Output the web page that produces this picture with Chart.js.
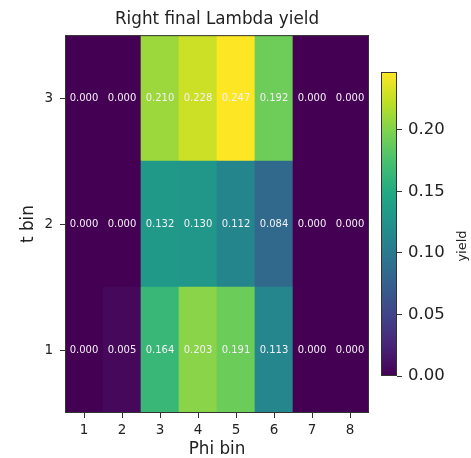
<!DOCTYPE html>
<html>
<head>
<meta charset="utf-8">
<script src="https://cdn.jsdelivr.net/npm/chart.js@4.4.1/dist/chart.umd.min.js"></script>
<style>
  body { margin: 0; background: #fff; }
  #wrap { position: relative; width: 471px; height: 458px; }
  canvas { position: absolute; top: 0; }
</style>
</head>
<body>
<div id="wrap">
  <canvas id="heatmap" width="471" height="458" style="left:0"></canvas>
  <canvas id="colorbar" width="111" height="458" style="left:360px"></canvas>
</div>
<script>
const TITLE = "Right final Lambda yield";
const PHI_BINS = ["1", "2", "3", "4", "5", "6", "7", "8"];
const T_BINS = [1, 2, 3];
const YIELD_T1 = [0.000, 0.005, 0.164, 0.203, 0.191, 0.113, 0.000, 0.000];
const YIELD_T2 = [0.000, 0.000, 0.132, 0.130, 0.112, 0.084, 0.000, 0.000];
const YIELD_T3 = [0.000, 0.000, 0.210, 0.228, 0.247, 0.192, 0.000, 0.000];
const CBAR_TICKS = [0.00, 0.05, 0.10, 0.15, 0.20];

const ROWS = [
  { t: 1, vals: YIELD_T1 },
  { t: 2, vals: YIELD_T2 },
  { t: 3, vals: YIELD_T3 },
];
const VMAX = Math.max(...YIELD_T1, ...YIELD_T2, ...YIELD_T3);

// viridis colormap, 11 stops
const VIRIDIS = ["#440154", "#482475", "#414487", "#355f8d", "#2a788e", "#21918c",
  "#22a884", "#44bf70", "#7ad151", "#bddf26", "#fde725"];

function hexToRgb(h) {
  return [1, 3, 5].map((i) => parseInt(h.slice(i, i + 2), 16));
}

function viridis(f) {
  f = Math.min(1, Math.max(0, f));
  const pos = f * (VIRIDIS.length - 1);
  const i = Math.min(Math.floor(pos), VIRIDIS.length - 2);
  const k = pos - i;
  const a = hexToRgb(VIRIDIS[i]);
  const b = hexToRgb(VIRIDIS[i + 1]);
  const c = a.map((v, j) => Math.round(v + (b[j] - v) * k));
  return `rgb(${c[0]},${c[1]},${c[2]})`;
}

Chart.defaults.font.family = "'DejaVu Sans'";
Chart.defaults.color = "#222";

const TEXT_COLOR = "#222";
const TICK_FONT = { size: 13.5 };
const LABEL_FONT = { size: 16.8, lineHeight: 1 };

function frame(ctx, a) {
  ctx.save();
  ctx.strokeStyle = "#333";
  ctx.lineWidth = 1;
  ctx.strokeRect(a.left + 0.5, a.top + 0.5, a.width - 1, a.height - 1);
  ctx.restore();
}

const cellText = {
  id: "cellText",
  afterDraw(chart) {
    const { ctx } = chart;
    const x = chart.scales.x;
    const y = chart.scales.y;
    ctx.save();
    ctx.font = "10px 'DejaVu Sans'";
    ctx.fillStyle = "#f4f0f6";
    ctx.textAlign = "center";
    ctx.textBaseline = "middle";
    ROWS.forEach((r) => {
      r.vals.forEach((v, i) => {
        ctx.fillText(v.toFixed(3), x.getPixelForValue(i), y.getPixelForValue(r.t));
      });
    });
    ctx.restore();
    frame(ctx, chart.chartArea);
  },
};

const tickGrid = {
  drawOnChartArea: false,
  drawTicks: true,
  tickLength: 5,
  color: "#333",
  offset: false,
};

new Chart(document.getElementById("heatmap"), {
  type: "bar",
  data: {
    labels: PHI_BINS,
    datasets: ROWS.map((r) => ({
      label: "t " + r.t,
      data: r.vals.map(() => [r.t - 0.5, r.t + 0.5]),
      backgroundColor: r.vals.map((v) => viridis(v / VMAX)),
      borderWidth: 0,
      grouped: false,
      barPercentage: 1,
      categoryPercentage: 1,
    })),
  },
  options: {
    responsive: false,
    animation: false,
    events: [],
    layout: { padding: { left: 0, right: 102, top: 0, bottom: 0 } },
    plugins: {
      legend: { display: false },
      tooltip: { enabled: false },
      title: {
        display: true,
        text: TITLE,
        fullSize: false,
        color: TEXT_COLOR,
        font: { size: 16.8, weight: "normal", lineHeight: 1.2 },
        padding: { top: 10, bottom: 5 },
      },
    },
    scales: {
      x: {
        type: "category",
        offset: true,
        grid: tickGrid,
        border: { display: false },
        ticks: { font: TICK_FONT, color: TEXT_COLOR, padding: 4, maxRotation: 0 },
        title: { display: true, text: "Phi bin", font: LABEL_FONT, color: TEXT_COLOR, padding: 0 },
        afterFit: (s) => { s.height = 45; },
      },
      y: {
        type: "linear",
        min: 0.5,
        max: 3.5,
        afterBuildTicks: (s) => { s.ticks = T_BINS.map((v) => ({ value: v })); },
        grid: tickGrid,
        border: { display: false },
        ticks: { font: TICK_FONT, color: TEXT_COLOR, padding: 7, callback: (v) => String(v) },
        title: { display: true, text: "t bin", font: LABEL_FONT, color: TEXT_COLOR, padding: { top: 20, bottom: 0 } },
        afterFit: (s) => { s.width = 65; },
      },
    },
  },
  plugins: [cellText],
});

const yieldLabel = {
  id: "yieldLabel",
  afterDraw(chart) {
    const { ctx } = chart;
    frame(ctx, chart.chartArea);
    ctx.save();
    ctx.translate(103, 246);
    ctx.rotate(-Math.PI / 2);
    ctx.font = "13px 'DejaVu Sans'";
    ctx.fillStyle = TEXT_COLOR;
    ctx.textAlign = "center";
    ctx.textBaseline = "middle";
    ctx.fillText("yield", 0, 0);
    ctx.restore();
  },
};

new Chart(document.getElementById("colorbar"), {
  type: "bar",
  data: {
    labels: ["yield"],
    datasets: [{
      data: [[0, VMAX]],
      backgroundColor: (c) => {
        const area = c.chart.chartArea;
        if (!area) return VIRIDIS[0];
        const g = c.chart.ctx.createLinearGradient(0, area.bottom, 0, area.top);
        VIRIDIS.forEach((col, i) => g.addColorStop(i / (VIRIDIS.length - 1), col));
        return g;
      },
      borderWidth: 0,
      barPercentage: 1,
      categoryPercentage: 1,
    }],
  },
  options: {
    responsive: false,
    animation: false,
    events: [],
    layout: { padding: { left: 21, right: 0, top: 72, bottom: 82 } },
    plugins: { legend: { display: false }, tooltip: { enabled: false } },
    scales: {
      x: { display: false, offset: true },
      y: {
        position: "right",
        min: 0,
        max: VMAX,
        afterBuildTicks: (s) => { s.ticks = CBAR_TICKS.map((v) => ({ value: v })); },
        grid: { drawOnChartArea: false, tickLength: 5, color: "#333" },
        border: { display: false },
        ticks: { font: { size: 16.5 }, color: TEXT_COLOR, padding: 6, callback: (v) => v.toFixed(2) },
        afterFit: (s) => { s.width = 74; },
      },
    },
  },
  plugins: [yieldLabel],
});
</script>
</body>
</html>
